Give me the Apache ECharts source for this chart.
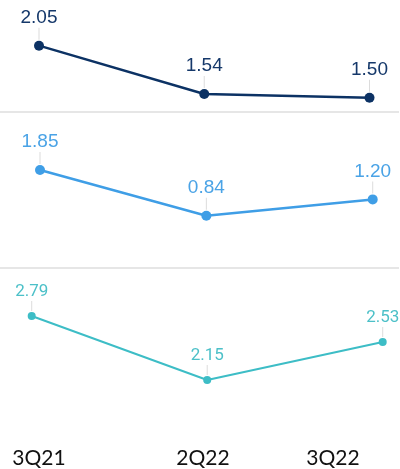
<!DOCTYPE html>
<html>
<head>
<meta charset="utf-8">
<script src="https://cdn.jsdelivr.net/npm/echarts@6/dist/echarts.min.js"></script>
<style>
html,body{margin:0;padding:0;background:#fff;}
#chart{width:400px;height:469px;}
</style>
</head>
<body>
<div id="chart"></div>
<script>
const categories = ['3Q21', '2Q22', '3Q22'];
const seriesTop = [2.05, 1.54, 1.50];
const seriesMid = [1.85, 0.84, 1.20];
const seriesBot = [2.79, 2.15, 2.53];

const chart = echarts.init(document.getElementById('chart'), null, {renderer: 'canvas'});

function lineSeries(idx, data, color, textColor, sym, lw, font, fontSize, lh, leader) {
  return {
    type: 'line',
    xAxisIndex: idx,
    yAxisIndex: idx,
    data: data,
    symbol: 'circle',
    symbolSize: sym,
    showSymbol: true,
    animation: false,
    lineStyle: {color: color, width: lw},
    itemStyle: {color: color},
    label: {
      show: true,
      position: 'top',
      distance: 1,
      formatter: function (p) { return '{v|' + p.value.toFixed(2) + '}\n{l|}'; },
      rich: {
        v: {fontFamily: font, fontSize: fontSize, color: textColor, lineHeight: lh, align: 'center'},
        l: {width: 1, height: leader, backgroundColor: '#dcdcdc', align: 'center'}
      }
    }
  };
}

const hiddenY = (i, min, max) => ({gridIndex: i, type: 'value', min: min, max: max, show: false});
const hiddenX = (i) => ({gridIndex: i, type: 'category', data: categories, boundaryGap: false, show: false});

chart.setOption({
  backgroundColor: '#ffffff',
  animation: false,
  grid: [
    {left: 39, top: 20, width: 330.5, height: 100},
    {left: 40, top: 140, width: 332.7, height: 100},
    {left: 31.7, top: 290, width: 351, height: 100},
    {left: 39, top: 440, width: 328, height: 10}
  ],
  xAxis: [
    hiddenX(0), hiddenX(1), hiddenX(2),
    {
      gridIndex: 3, type: 'category', data: categories, boundaryGap: false,
      axisLine: {show: false}, axisTick: {show: false}, splitLine: {show: false},
      axisLabel: {
        show: true, margin: 8, verticalAlign: 'middle', interval: 0,
        formatter: function (v, i) { return i === categories.length - 1 ? '{s|' + v + '}' : '{n|' + v + '}'; },
        rich: {
          n: {fontFamily: 'Lato', fontSize: 21, color: '#111111'},
          s: {fontFamily: 'Lato', fontSize: 21, color: '#111111', padding: [0, 68, 0, 0]}
        }
      }
    }
  ],
  yAxis: [
    hiddenY(0, 1.265, 2.321),
    hiddenY(1, 0.302, 2.514),
    hiddenY(2, 2.05, 3.05),
    hiddenY(3, 0, 1)
  ],
  graphic: [
    {type: 'line', shape: {x1: 0, y1: 112, x2: 399, y2: 112}, style: {stroke: '#e6e6e6', lineWidth: 2}, silent: true},
    {type: 'line', shape: {x1: 0, y1: 268, x2: 399, y2: 268}, style: {stroke: '#e6e6e6', lineWidth: 2}, silent: true}
  ],
  series: [
    lineSeries(0, seriesTop, '#0c3264', '#15386a', 10, 2.5, 'Liberation Sans', 19, 20, 12),
    lineSeries(1, seriesMid, '#3f9ee6', '#4aa3e6', 10, 2.5, 'Liberation Sans', 19, 20, 12),
    lineSeries(2, seriesBot, '#3dbdc6', '#4cc0c8', 8, 2, 'Roboto', 17, 18, 10)
  ]
});
</script>
</body>
</html>
